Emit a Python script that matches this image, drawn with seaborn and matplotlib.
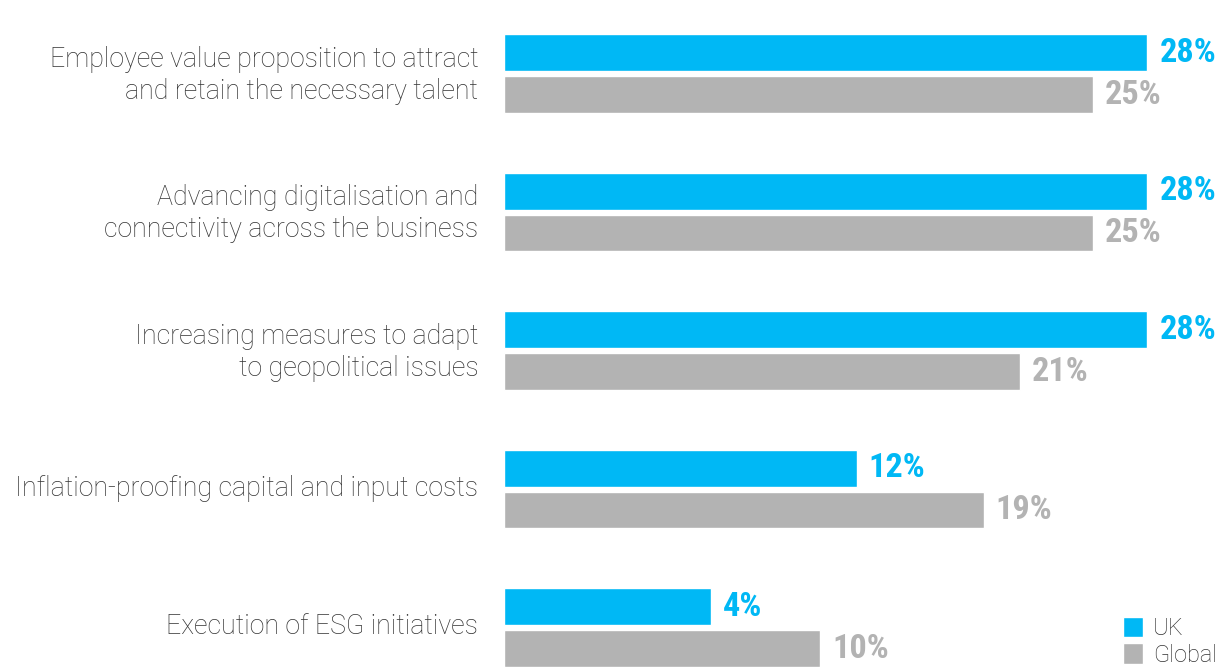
import matplotlib
matplotlib.use("Agg")
import matplotlib.pyplot as plt
import matplotlib.transforms as mtrans
import matplotlib.font_manager as fm
from matplotlib.ft2font import FT2Font
from matplotlib.textpath import TextPath
import seaborn as sns
import pandas as pd
from matplotlib.patches import Patch

categories = [
    "Employee value proposition to attract\nand retain the necessary talent",
    "Advancing digitalisation and\nconnectivity across the business",
    "Increasing measures to adapt\nto geopolitical issues",
    "Inflation-proofing capital and input costs",
    "Execution of ESG initiatives",
]
uk_values = [28, 28, 28, 12, 4]
global_values = [25, 25, 21, 19, 10]
series_names = ["UK", "Global"]

UK_COLOR = "#00B8F5"
GL_COLOR = "#B3B3B3"

df = pd.DataFrame({
    "category": categories * 2,
    "value": uk_values + global_values,
    "series": [series_names[0]] * len(categories) + [series_names[1]] * len(categories),
})

sns.set_theme(style="white")
plt.rcParams["font.family"] = ["Roboto", "DejaVu Sans"]

# choose the narrowest bold font (from the known families) for the value labels
known = ("dejavu", "liberation", "noto sans", "roboto", "open sans", "lato", "inter")
best = None
for f in fm.fontManager.ttflist:
    fn = f.fname.lower()
    name = f.name.lower()
    if not name.startswith(known) or "cjk" in name or "mono" in name or "serif" in name:
        continue
    w = f.weight if isinstance(f.weight, int) else (700 if f.weight == "bold" else 400)
    if w < 600 or "italic" in fn or "oblique" in fn:
        continue
    try:
        cmap = FT2Font(f.fname).get_charmap()
        if not all(ord(c) in cmap for c in "0123456789%"):
            continue
        fp = fm.FontProperties(fname=f.fname, size=10)
        ext = TextPath((0, 0), "28%", prop=fp).get_extents()
        ratio = ext.width / max(ext.height, 1e-6)
    except Exception:
        continue
    if best is None or ratio < best[0]:
        best = (ratio, f.fname, ext.width)
if best is not None:
    size = min(26.0, 54 * 0.72 * 10 / best[2])
    val_font = dict(fontproperties=fm.FontProperties(fname=best[1], size=size))
else:
    val_font = dict(fontsize=18, fontweight="bold")

W, H = 1220, 667
fig = plt.figure(figsize=(W / 100, H / 100), dpi=100)
ax = fig.add_axes([504 / W, 0, (W - 504) / W, 1])

sns.barplot(data=df, y="category", x="value", hue="series", orient="h",
            palette=[UK_COLOR, GL_COLOR], width=0.606, gap=0.12,
            order=categories, hue_order=series_names, legend=False, ax=ax,
            saturation=1)

x0 = -7.4
ax.set_xlim(x0, 32.0)
ax.set_ylim(4.285, -0.531)

# bars start at the left edge of the axis (non-zero baseline as in reference)
for p in ax.patches:
    end = p.get_x() + p.get_width()
    p.set_x(x0)
    p.set_width(end - x0)

# value labels
for container, color in zip(ax.containers, [UK_COLOR, GL_COLOR]):
    for p in container:
        end = p.get_x() + p.get_width()
        yc = p.get_y() + p.get_height() / 2
        ax.annotate(f"{end:.0f}%", xy=(end, yc), xytext=(12, 0),
                    textcoords="offset pixels", ha="left", va="center",
                    color=color, annotation_clip=False, **val_font)

ax.set_xlabel("")
ax.set_ylabel("")
ax.set_xticks([])
ax.tick_params(axis="y", length=0, pad=18.5)
ax.set_yticks(range(len(categories)))
ax.set_yticklabels(categories, fontsize=19.3, color="#333333", fontweight="light",
                   linespacing=1.25, ha="right")
shift = mtrans.ScaledTranslation(0, 4 / 100, fig.dpi_scale_trans)
for lbl in ax.get_yticklabels():
    lbl.set_transform(lbl.get_transform() + shift)
for s in ax.spines.values():
    s.set_visible(False)

handles = [Patch(facecolor=UK_COLOR, label=series_names[0]),
           Patch(facecolor=GL_COLOR, label=series_names[1])]
fig.legend(handles=handles, loc="lower left", bbox_to_anchor=(1121 / W, -2 / H),
           frameon=False, handlelength=0.85, handleheight=0.95,
           handletextpad=0.4, labelspacing=0.15, borderpad=0.1, borderaxespad=0,
           labelcolor="#333333", prop=dict(weight="light", size=17))

fig.savefig("out.png", dpi=100)
